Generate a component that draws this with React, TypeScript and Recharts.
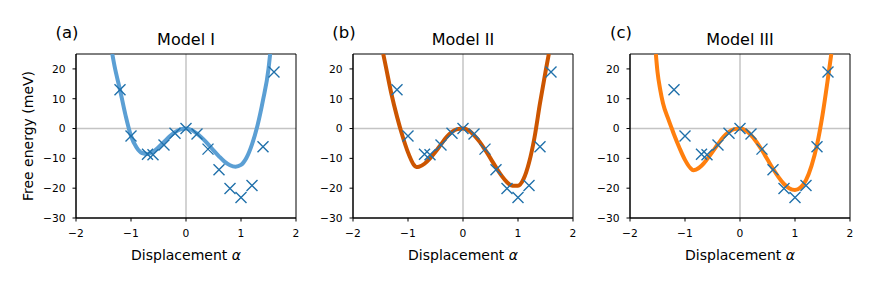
import React from 'react';
import { ComposedChart, Line, Scatter, XAxis, YAxis, CartesianGrid, ReferenceArea } from 'recharts';

// DFT points (same in all three panels)
const dftX = [-1.2, -1.0, -0.7, -0.6, -0.4, -0.2, 0, 0.2, 0.4, 0.6, 0.8, 1.0, 1.2, 1.4, 1.6];
const dftE = [13, -2.5, -8.6, -8.8, -5.5, -1.6, 0, -1.8, -6.9, -13.8, -20.1, -23.1, -19.1, -6.1, 19];

// fitted curves
const model1X = [-1.34, -1.3, -1.2, -1.1, -1.0, -0.9, -0.8, -0.7, -0.6, -0.5, -0.4, -0.3, -0.2, -0.1, 0, 0.1, 0.2, 0.3, 0.4, 0.5, 0.6, 0.7, 0.8, 0.9, 1.0, 1.1, 1.2, 1.3, 1.4, 1.5, 1.53];
const model1E = [25, 21, 13, 4.5, -2.5, -6.3, -8.2, -8.5, -7.8, -6.3, -4.5, -2.7, -1.2, -0.3, 0, -0.5, -1.7, -3.3, -5.2, -7.3, -9.3, -11.1, -12.3, -12.8, -12.2, -9.8, -5.3, 1, 9.5, 20, 25];

const model2X = [-1.45, -1.4, -1.3, -1.2, -1.1, -1.0, -0.9, -0.85, -0.8, -0.7, -0.6, -0.5, -0.4, -0.3, -0.2, -0.1, 0, 0.1, 0.2, 0.3, 0.4, 0.5, 0.6, 0.7, 0.8, 0.9, 1.0, 1.1, 1.2, 1.3, 1.4, 1.5, 1.56];
const model2E = [25, 20.5, 11.5, 4, -2.5, -8, -12, -12.9, -12.8, -11.8, -10, -7.8, -5.3, -2.9, -1.1, -0.2, 0, -0.6, -2.2, -4.4, -7.1, -10, -13, -15.8, -18, -19.2, -19.2, -17, -11.5, -3, 8.5, 19, 25];

const model3X = [-1.53, -1.5, -1.45, -1.4, -1.3, -1.24, -1.2, -1.1, -1.0, -0.9, -0.85, -0.8, -0.7, -0.6, -0.5, -0.4, -0.3, -0.2, -0.1, 0, 0.1, 0.2, 0.3, 0.4, 0.5, 0.6, 0.7, 0.8, 0.9, 1.0, 1.1, 1.2, 1.3, 1.4, 1.5, 1.6, 1.66];
const model3E = [25, 19, 13, 8.5, 3, 0, -2, -6.5, -10.5, -13.3, -14, -13.8, -12.5, -10.3, -7.8, -5.2, -2.8, -1.1, -0.2, 0, -0.6, -2.2, -4.5, -7.3, -10.4, -13.5, -16.3, -18.6, -20.1, -20.6, -19.8, -17.3, -12.5, -5.5, 4.5, 17, 25];

const xTicks = [-2, -1, 0, 1, 2];
const yTicks = [-30, -20, -10, 0, 10, 20];

const FONT = 'DejaVu Sans, sans-serif';
const MARKER = '#1f70aa';

const zip = (xs: number[], ys: number[]) => xs.map((x, i) => ({ x, y: ys[i] }));
const fmt = (v: number) => (v < 0 ? '\u2212' + Math.abs(v) : String(v));

const Cross = (props: any) => {
  const { cx, cy } = props;
  const r = 5.5;
  return (
    <path
      d={`M${cx - r},${cy - r}L${cx + r},${cy + r}M${cx - r},${cy + r}L${cx + r},${cy - r}`}
      stroke={MARKER}
      strokeWidth={1.4}
      fill="none"
    />
  );
};

interface PanelProps {
  left: number; // plot area left edge on page
  tag: string;
  title: string;
  curveX: number[];
  curveE: number[];
  color: string;
  yLabel?: boolean;
}

const PLOT_W = 220;
const PLOT_TOP = 54;
const PLOT_BOTTOM = 218;
const H = 287;
const PAD = 70;
const XAXIS_H = 30;

function Panel({ left, tag, title, curveX, curveE, color, yLabel }: PanelProps) {
  const dft = zip(dftX, dftE);
  const curve = zip(curveX, curveE);
  const cx = PAD + PLOT_W / 2;
  const origin = left - PAD;
  return (
    <div style={{ position: 'absolute', left: origin, top: 0 }}>
      <ComposedChart
        width={PAD + PLOT_W + 10}
        height={H}
        margin={{ top: PLOT_TOP, bottom: H - PLOT_BOTTOM - XAXIS_H, left: PAD - 40, right: 10 }}
      >
        <CartesianGrid horizontal vertical horizontalValues={[0]} verticalValues={[0]} stroke="#c4c4c4" strokeWidth={1.5} />
        <XAxis
          dataKey="x"
          type="number"
          domain={[-2, 2]}
          ticks={xTicks}
          allowDataOverflow
          tickFormatter={fmt}
          tickSize={3.5}
          tickMargin={8}
          height={XAXIS_H}
          stroke="#000"
          tick={{ fill: '#000', fontSize: 10.7, fontFamily: FONT }}
        />
        <YAxis
          dataKey="y"
          type="number"
          domain={[-30, 25]}
          ticks={yTicks}
          allowDataOverflow
          tickFormatter={fmt}
          tickSize={3.5}
          tickMargin={7}
          width={40}
          stroke="#000"
          tick={{ fill: '#000', fontSize: 10.7, fontFamily: FONT }}
        />
        <Line data={curve} dataKey="y" type="monotone" stroke={color} strokeWidth={4} dot={false} isAnimationActive={false} />
        <Scatter data={dft} dataKey="y" shape={<Cross />} isAnimationActive={false} />
        <ReferenceArea x1={-2} x2={2} y1={-30} y2={25} fill="none" stroke="#000" strokeWidth={1} ifOverflow="visible" />
        <text x={cx - PLOT_W / 2 - 9} y={38} textAnchor="middle" fontFamily={FONT} fontSize={16.5} fill="#000">{tag}</text>
        <text x={cx} y={45} textAnchor="middle" fontFamily={FONT} fontSize={16} fill="#000">{title}</text>
        <text x={cx} y={260} textAnchor="middle" fontFamily={FONT} fontSize={14} fill="#000">
          Displacement <tspan fontStyle="italic">α</tspan>
        </text>
        {yLabel && (
          <text
            x={0}
            y={0}
            transform={`translate(${33 - origin}, ${(PLOT_TOP + PLOT_BOTTOM) / 2}) rotate(-90)`}
            textAnchor="middle"
            fontFamily={FONT}
            fontSize={14}
            fill="#000"
          >
            Free energy (meV)
          </text>
        )}
      </ComposedChart>
    </div>
  );
}

export default function App() {
  return (
    <div style={{ position: 'absolute', left: 0, top: 0, width: 871, height: 287, background: '#fff' }}>
      <Panel left={76} tag="(a)" title="Model I" curveX={model1X} curveE={model1E} color="#5b9fd4" yLabel />
      <Panel left={353} tag="(b)" title="Model II" curveX={model2X} curveE={model2E} color="#cc5500" />
      <Panel left={630} tag="(c)" title="Model III" curveX={model3X} curveE={model3E} color="#ff7f0e" />
    </div>
  );
}
